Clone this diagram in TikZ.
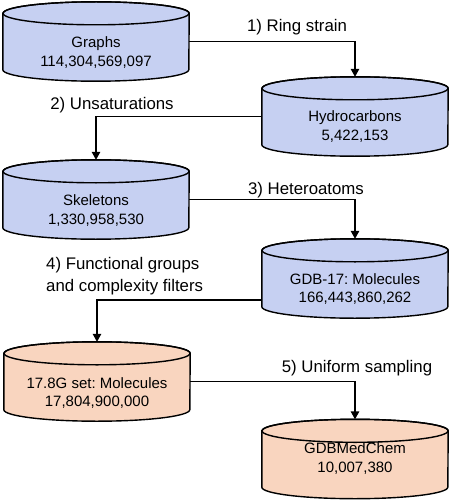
\documentclass[tikz,border=0pt]{standalone}
\usepackage{fontspec}
\setmainfont{Liberation Sans}
\frenchspacing
\usetikzlibrary{arrows.meta,backgrounds}
\definecolor{drumblue}{RGB}{198,208,242}
\definecolor{drumpeach}{RGB}{249,213,191}
\newcommand\drumrx{93pt}
\newcommand\drumry{11.5pt}
\newcommand\drawdrum[2]{%
  \filldraw[fill=#2, drumline] ([yshift=-\drumry]#1.north west) -- ([yshift=\drumry]#1.south west)
    arc[start angle=180, end angle=360, x radius=\drumrx, y radius=\drumry]
    -- ([yshift=-\drumry]#1.north east)
    arc[start angle=0, end angle=180, x radius=\drumrx, y radius=\drumry] -- cycle;
  \draw[drumline] ([yshift=-\drumry]#1.north) ellipse[x radius=\drumrx, y radius=\drumry];
}
\begin{document}
\begin{tikzpicture}[x=1pt,y=-1pt,
  drumline/.style={line width=1.4pt, draw=black},
  drumbody/.style={rectangle, inner sep=0pt, minimum width=186pt, minimum height=79pt},
  drumtext/.style={align=center, inner sep=0pt, font=\fontsize{15}{18.5}\selectfont},
  steplabel/.style={inner sep=0pt, font=\fontsize{16.8}{22}\selectfont},
  conn/.style={line width=1.4pt, -{Triangle[length=8pt,width=8.5pt]}}]
\useasboundingbox (0,0) rectangle (449,500);
% drum bodies
\node[drumbody] (g) at (96,41.5) {};
\node[drumbody] (h) at (355,116.5) {};
\node[drumbody] (s) at (96,199.5) {};
\node[drumbody] (m) at (355,278.5) {};
\node[drumbody] (f) at (97,381.5) {};
\node[drumbody] (c) at (355,459) {};
\begin{scope}[on background layer]
  \drawdrum{g}{drumblue}
  \drawdrum{h}{drumblue}
  \drawdrum{s}{drumblue}
  \drawdrum{m}{drumblue}
  \drawdrum{f}{drumpeach}
  \drawdrum{c}{drumpeach}
\end{scope}
% texts
\node[drumtext] (gT) at (96,52.5) {Graphs\\114,304,569,097};
\node[drumtext] (hT) at (355,126.5) {Hydrocarbons\\5,422,153};
\node[drumtext] (sT) at (96,210.5) {Skeletons\\1,330,958,530};
\node[drumtext] (mT) at (355,289) {GDB-17: Molecules\\166,443,860,262};
\node[drumtext] (fT) at (97,393) {17.8G set: Molecules\\17,804,900,000};
\node[drumtext] (cT) at (355,458.5) {GDBMedChem\\10,007,380};
% step labels
\node[steplabel] (l1) at (297,27) {1) Ring strain};
\node[steplabel] (l2) at (112,105) {2) Unsaturations};
\node[steplabel] (l3) at (306,190) {3) Heteroatoms};
\node[steplabel, anchor=west, align=left] (l4) at (46,276) {4) Functional groups\\and complexity filters};
\node[steplabel] (l5) at (357,368) {5) Uniform sampling};
% connectors
\draw[conn] (g.east) -| (h.north);
\draw[conn] (h.west) -| (s.north);
\draw[conn] (s.east) -| (m.north);
\draw[conn] ([yshift=-21.5pt]m.west) -| (f.north);
\draw[conn] (f.east) -| (c.north);
\end{tikzpicture}
\end{document}
